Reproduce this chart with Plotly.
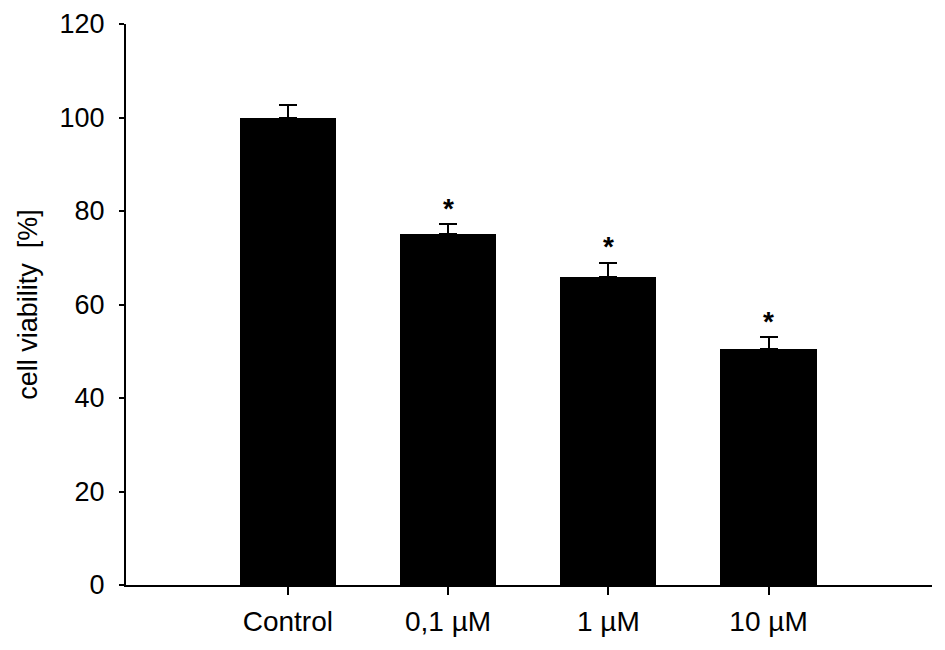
import plotly.graph_objects as go

categories = ["Control", "0,1 µM", "1 µM", "10 µM"]
viability = [99.9, 75.1, 65.9, 50.5]
errors = [2.7, 2.1, 3.0, 2.5]
significant = [False, True, True, True]
y_ticks = [0, 20, 40, 60, 80, 100, 120]

FONT = "Liberation Sans, Arial, sans-serif"

fig = go.Figure()
fig.add_trace(go.Bar(
    x=list(range(len(categories))),
    y=viability,
    width=0.6,
    marker=dict(color="black", line=dict(width=0)),
    error_y=dict(type="data", symmetric=False, array=errors,
                 arrayminus=[0] * len(errors), color="black",
                 thickness=2, width=9),
    showlegend=False,
))

for i, (v, e, s) in enumerate(zip(viability, errors, significant)):
    if s:
        fig.add_annotation(x=i, y=v + e, text="<b>*</b>", showarrow=False,
                           yanchor="middle", yshift=16,
                           font=dict(family=FONT, size=28, color="black"))

fig.update_layout(
    width=945, height=650,
    margin=dict(l=118, r=21, t=16, b=73),
    paper_bgcolor="white", plot_bgcolor="white",
    font=dict(family=FONT, color="black"),
    bargap=0,
)
fig.update_xaxes(
    range=[-1.01, 4.02], automargin=False,
    tickmode="array", tickvals=list(range(len(categories))), ticktext=categories,
    showline=True, linecolor="black", linewidth=2,
    ticks="outside", ticklen=8, tickwidth=2, tickcolor="black",
    showgrid=False, zeroline=False,
    tickfont=dict(family=FONT, size=28, color="black"),
    ticklabelstandoff=2,
)
fig.update_yaxes(
    range=[0, 120], automargin=False,
    tickmode="array", tickvals=y_ticks, ticktext=[str(t) for t in y_ticks],
    showline=True, linecolor="black", linewidth=2,
    ticks="outside", ticklen=5, tickwidth=2, tickcolor="black",
    showgrid=False, zeroline=False,
    tickfont=dict(family=FONT, size=27, color="black"),
    ticklabelstandoff=9,
    title=dict(text="cell viability  [%]", standoff=14,
               font=dict(family=FONT, size=27, color="black")),
)

fig.write_html("out.html")
